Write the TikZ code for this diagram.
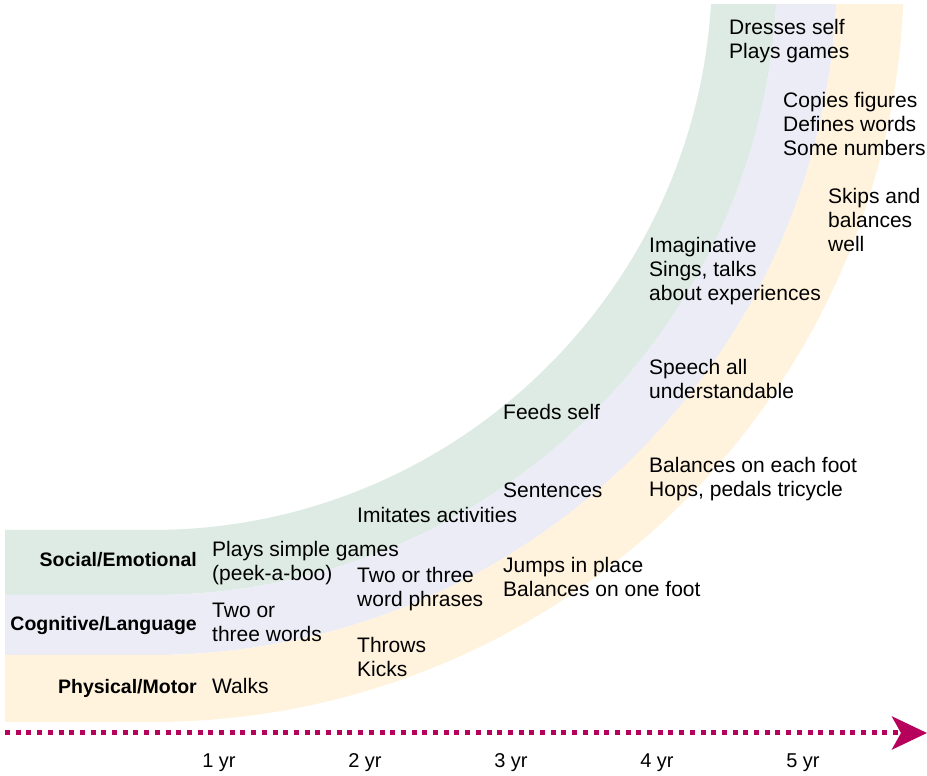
\documentclass[tikz,border=0pt]{standalone}
\usepackage{fontspec}
\setmainfont{Liberation Sans}
\usetikzlibrary{arrows.meta}
\definecolor{socialgreen}{RGB}{221,235,228}
\definecolor{cogblue}{RGB}{236,236,246}
\definecolor{motoryellow}{RGB}{255,243,222}
\definecolor{agered}{RGB}{183,0,91}

\begin{document}
\begin{tikzpicture}[x=1pt,y=1pt,
    area/.style={font=\fontsize{19.5}{24}\selectfont\bfseries,anchor=base east,inner sep=0pt},
    skill/.style={font=\fontsize{21}{24}\selectfont,anchor=base west,align=left,inner sep=0pt},
    age/.style={font=\fontsize{20}{24}\selectfont,anchor=base,inner sep=0pt}]
\useasboundingbox (0,0) rectangle (927,776);

% curved bands, all round one centre
\begin{scope}
  \clip (5,0) rectangle (927,771);
  \foreach \col/\ri/\ro in {socialgreen/560/625, cogblue/625/685, motoryellow/685/752}
    \fill[\col] (5,{806-\ri}) -- (152,{806-\ri})
      arc[start angle=-90,end angle=0,radius=\ri] -- ({152+\ro},806)
      arc[start angle=0,end angle=-90,radius=\ro] -- (5,{806-\ro}) -- cycle;
\end{scope}

% areas
\node[area] (social) at (197,209) {Social/Emotional};
\node[area] (cognitive) at (197,145) {Cognitive/Language};
\node[area] (physical) at (197,82) {Physical/Motor};

% milestones (base = last line)
\node[skill] (walks) at (212,82) {Walks};
\node[skill] (words) at (212,134) {Two or\\three words};
\node[skill] (peekaboo) at (212,195) {Plays simple games\\(peek-a-boo)};
\node[skill] (throws) at (357,99) {Throws\\Kicks};
\node[skill] (phrases) at (357,169) {Two or three\\word phrases};
\node[skill] (imitates) at (357,253) {Imitates activities};
\node[skill] (jumps) at (503,179) {Jumps in place\\Balances on one foot};
\node[skill] (sentences) at (503,278) {Sentences};
\node[skill] (feeds) at (503,356) {Feeds self};
\node[skill] (hops) at (649,279) {Balances on each foot\\Hops, pedals tricycle};
\node[skill] (speech) at (649,377) {Speech all\\understandable};
\node[skill] (imagine) at (649,475) {Imaginative\\Sings, talks\\about experiences};
\node[skill] (skips) at (828,524) {Skips and\\balances\\well};
\node[skill] (copies) at (783,620) {Copies figures\\Defines words\\Some numbers};
\node[skill] (dresses) at (729,717) {Dresses self\\Plays games};

% age axis
\coordinate (start) at (5,43);
\coordinate (tip) at (927,43);
\draw[agered,line width=5pt,dash pattern=on 5pt off 5.7pt,
  -{Stealth[length=35pt,width=33pt,inset=9pt]}] (start) -- (tip);
\foreach \i in {1,...,5}
  \node[age] (yr\i) at ({73+146*\i},8) {\i\ yr};
\end{tikzpicture}
\end{document}
